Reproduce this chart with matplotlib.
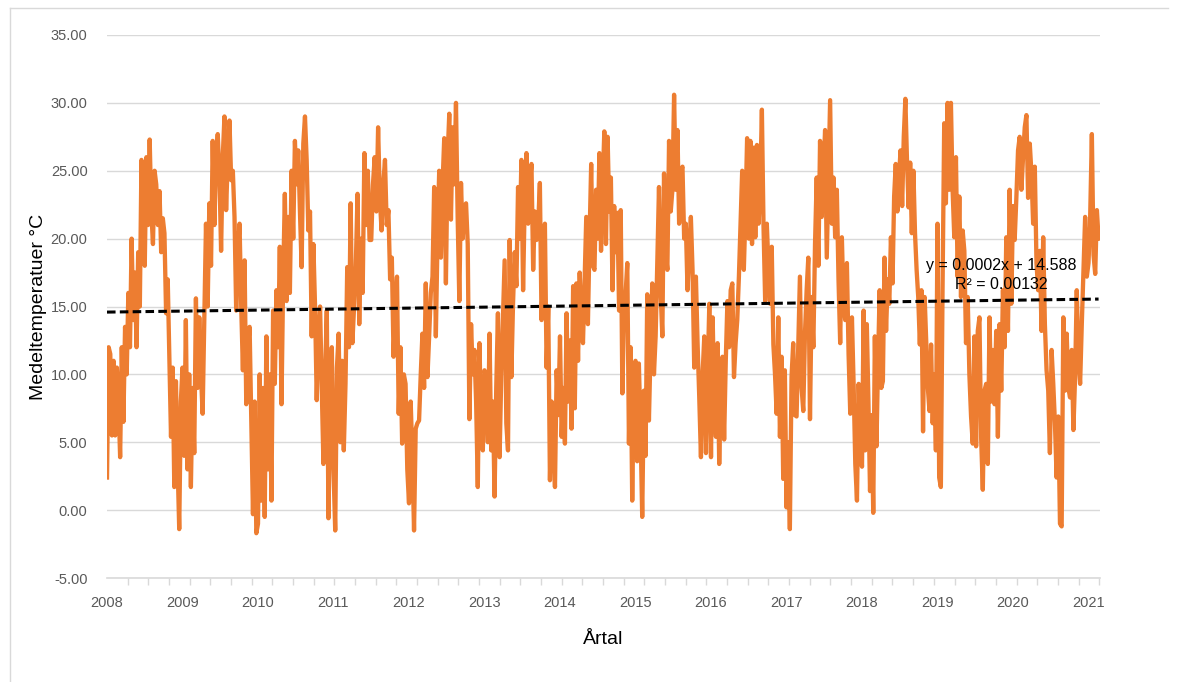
import numpy as np
import matplotlib.pyplot as plt
from matplotlib.lines import Line2D
from matplotlib.ticker import FixedLocator

# daily mean temperature (roughly every 8 days)
t2008 = [2.4, 12, 11.5, 5.5, 11, 5.5, 10.5, 8, 3.9, 12, 6.5, 13.5, 10, 16, 12, 20, 14, 17.5, 12, 19,
         15, 25.8, 20, 18, 26, 21, 27.3, 22, 19.6, 25, 24, 21, 23.5, 19, 21.5, 20.4, 14.5, 17, 11, 5.4,
         10.5, 1.7, 9.5, 3.5, -1.4, 8]
t2009 = [10.5, 4, 14, 3, 10, 1.7, 9, 4.2, 15.6, 9, 14.2, 10, 7.1, 14, 21.1, 15, 22.6, 18, 27.2, 21,
         26, 27.7, 24.8, 19.1, 26, 29, 22.1, 26, 28.7, 24.3, 25, 21.6, 14.7, 19, 21.1, 15, 10.3, 18.4,
         7.8, 12, 13.5, 6.4, -0.3, 8, -1.7]
t2010 = [-1, 10, 0.7, 9, -0.5, 12.8, 3, 10, 0.7, 14.7, 9.3, 16.2, 12, 19.4, 7.8, 17, 23.3, 15.4, 21.6,
         16, 25, 20, 27.2, 24, 26.5, 22, 17.9, 27, 29, 25.8, 20.6, 22, 12.8, 19.6, 15, 8.1, 13, 15, 9,
         3.4, 10, 14.7, -0.6, 8, 12]
t2011 = [3, -1.5, 10.5, 13, 5, 11, 4.4, 9.3, 17.9, 12, 22.6, 12.3, 15, 18, 23.3, 13.7, 20, 16, 26.3,
         21, 25, 19.9, 19.9, 24, 26, 22, 28.2, 23, 20.6, 24, 25.8, 21, 22.1, 17, 18.6, 11.3, 15, 17.2,
         7.1, 12, 4.9, 10, 9.3, 3]
t2012 = [0.5, 8, 4, -1.5, 6, 6.4, 6.6, 10, 13, 9, 16.7, 9.8, 12.8, 16, 17.2, 23.8, 12.8, 20, 25, 18.6,
         24, 27.4, 16.7, 26, 29.2, 21.4, 28.2, 24, 30, 21.6, 15.4, 24.1, 20, 22.4, 22.6, 19.6, 6.7,
         13.7, 10, 11.8, 8, 1.7, 12.3, 6, 4.4]
t2013 = [10.3, 9.8, 5, 13, 4.4, 8, 1, 9, 14.5, 3.9, 10, 14.2, 18.4, 6.4, 4.4, 19.9, 9.8, 15.2, 19, 16.5,
         23.8, 20, 25.8, 16.2, 23, 26.3, 21.1, 24, 25.5, 17.7, 22, 19.9, 21, 24.1, 14, 18, 21.1, 10.5,
         15, 2.2, 8, 5, 1.7, 10.3, 7]
t2014 = [12.8, 5.4, 9, 4.9, 14.5, 8, 12.5, 6, 16.5, 7.5, 16.7, 11, 17.5, 14, 12.3, 17, 21.6, 13.7, 20,
         25.5, 18, 17.7, 23.6, 20, 26.3, 19.1, 24, 27.9, 19.6, 27.5, 22, 24.5, 16.2, 22.4, 19, 21.9,
         14.7, 22.1, 8.6, 14.7, 16, 18.2, 4.9, 12, 0.7, 9]
t2015 = [11, 3.6, 10.8, 6, -0.5, 8.8, 4, 15.9, 6.6, 12, 16.7, 10, 12.8, 18.4, 23.8, 16, 12.8, 24.8, 19,
         17.7, 27.2, 22, 23.6, 30.6, 23.6, 28, 21.1, 25, 25.3, 20, 21.1, 16.2, 19, 21.6, 17.7, 10.5,
         17.2, 12.3, 8.3, 3.9, 10, 12.8, 4.2, 10, 15.2]
t2016 = [3.9, 14.2, 8, 5.4, 12.3, 3.4, 9, 11.3, 5.2, 11, 15.4, 12, 16.2, 16.7, 9.8, 12.3, 14, 17.2, 21,
         25, 17.7, 22, 27.4, 20, 27.2, 19.6, 26.7, 20.1, 26.9, 21.1, 24, 29.5, 20.9, 15.4, 21.1, 18,
         15.2, 19.4, 12.2, 10, 7.1, 14.2, 5.4, 11.3, 2.3, 10.3]
t2017 = [0.2, 5, -1.4, 9.8, 12.3, 7, 6.9, 12, 17.2, 9, 7.3, 13, 16.2, 18.6, 6.7, 15.7, 12, 19.6, 24.5,
         18, 27.2, 21.6, 25, 28, 18.6, 24.3, 30.2, 21.1, 24.5, 20.1, 23.6, 17, 12.3, 20.1, 15.2, 14,
         18.2, 11.5, 7.1, 14.2, 9.3, 3.4, 0.7, 9.3, 5]
t2018 = [3.2, 14.7, 4.4, 13.7, 8, 1.4, 7, -0.2, 12.8, 4.7, 11, 16.2, 9, 9.5, 18.6, 13.2, 17, 15.2,
         20.1, 16.7, 23.1, 25.5, 22, 24.5, 26.5, 22.4, 27.5, 30.3, 25.8, 22.3, 25.6, 20.4, 25, 20.4,
         17.7, 15.7, 12.2, 16.2, 5.8, 15.7, 12.3, 9, 7.3, 12.2, 6.4, 10, 4.4]
t2019 = [21.1, 2.4, 1.7, 16.2, 28.5, 22.6, 30, 23.6, 30, 23.6, 20.1, 26, 17.2, 23.1, 15.7, 20.6, 19.1,
         12.3, 15.7, 10, 6.9, 4.9, 12.8, 4.7, 13.2, 14.2, 5.4, 1.5, 8.8, 9.3, 3.4, 14.2, 8, 11.8, 7.8,
         13.2, 5.4, 13.7, 8.8, 16.2, 12, 20.1, 13.2, 23.6, 15.2]
t2020 = [22.4, 19.9, 23, 26.5, 27.5, 23.6, 26, 28.2, 29.1, 23, 27, 24.8, 21.1, 25.3, 18.2, 16.2, 19.1,
         13.2, 20.1, 13.7, 10.3, 8.8, 4.2, 11.8, 9.3, 6.4, 2.4, 6.9, -1, -1.2, 14.2, 8.8, 13, 9, 8.3,
         11.8, 5.9, 9.8, 16.2, 11.3, 9.3, 13.7, 17.7, 21.6, 17.2]
t2021 = [18.2, 21.6, 27.7, 18.8, 17.4, 22.1, 20]

years = list(range(2008, 2022))
series = [t2008, t2009, t2010, t2011, t2012, t2013, t2014, t2015, t2016, t2017,
          t2018, t2019, t2020, t2021]

# Excel linear trendline (x = day number)
trend_slope = 0.0002
trend_intercept = 14.588
eq_text = "y = 0.0002x + 14.588"
r2_text = "R² = 0.00132"

xs, ys = [], []
for yr, vals in zip(years, series):
    n = len(vals) if yr < 2021 else 45
    xs.extend(yr + np.arange(len(vals)) / n)
    ys.extend(vals)
xs = np.array(xs)
ys = np.array(ys)

plt.rcParams['font.family'] = ['Liberation Sans', 'DejaVu Sans']

fig = plt.figure(figsize=(11.79, 6.82), dpi=100)
ax = fig.add_axes([107 / 1179, 1 - 578 / 682, (1100 - 107) / 1179, (578 - 35) / 682])

ax.plot(xs, ys, color="#ED7D31", linewidth=3.1, zorder=3)

trend_x = np.array([2008, xs[-1]])
trend_y = trend_slope * ((trend_x - 2008) * 365.25 + 1) + trend_intercept
ax.plot(trend_x, trend_y, color="black", linestyle=(0, (2.8, 1.4)), linewidth=2.2, zorder=4)

ax.text(2019.84, 18.0, eq_text, fontsize=11.5, ha="center", va="center", zorder=5)
ax.text(2019.84, 16.6, r2_text, fontsize=11.5, ha="center", va="center", zorder=5)

ax.set_xlim(2008, 2008 + (1100 - 107) / 75.5)
ax.set_ylim(-5, 35)
ax.set_yticks(np.arange(-5, 36, 5))
ax.set_yticklabels([f"{v:.2f}" for v in np.arange(-5, 36, 5)])
ax.set_xticks(years)
ax.set_xticklabels([str(y) for y in years])
ax.xaxis.set_minor_locator(FixedLocator(2008 + np.arange(0, 4900, 100) / 365.25))
ax.tick_params(axis="both", which="major", length=0, labelsize=10.5, labelcolor="#595959")
ax.tick_params(axis="y", pad=14)
ax.tick_params(axis="x", pad=13)
ax.tick_params(axis="x", which="minor", length=5, width=1, color="#D9D9D9", direction="out")

ax.grid(axis="y", color="#D9D9D9", linewidth=1)
ax.set_axisbelow(True)
for s in ["top", "right", "left"]:
    ax.spines[s].set_visible(False)
ax.spines["bottom"].set_color("#D9D9D9")
ax.spines["bottom"].set_linewidth(1.2)

ax.set_ylabel("Medeltemperatuer °C", fontsize=14, labelpad=3)
ax.set_xlabel("Årtal", fontsize=14, labelpad=15)

# chart area border (top and left)
fig.add_artist(Line2D([10 / 1179, 10 / 1179], [0, 1 - 8 / 682], transform=fig.transFigure,
                      color="#D9D9D9", linewidth=1))
fig.add_artist(Line2D([10 / 1179, 1168 / 1179], [1 - 8 / 682, 1 - 8 / 682], transform=fig.transFigure,
                      color="#D9D9D9", linewidth=1))

fig.savefig("out.png", dpi=100)
